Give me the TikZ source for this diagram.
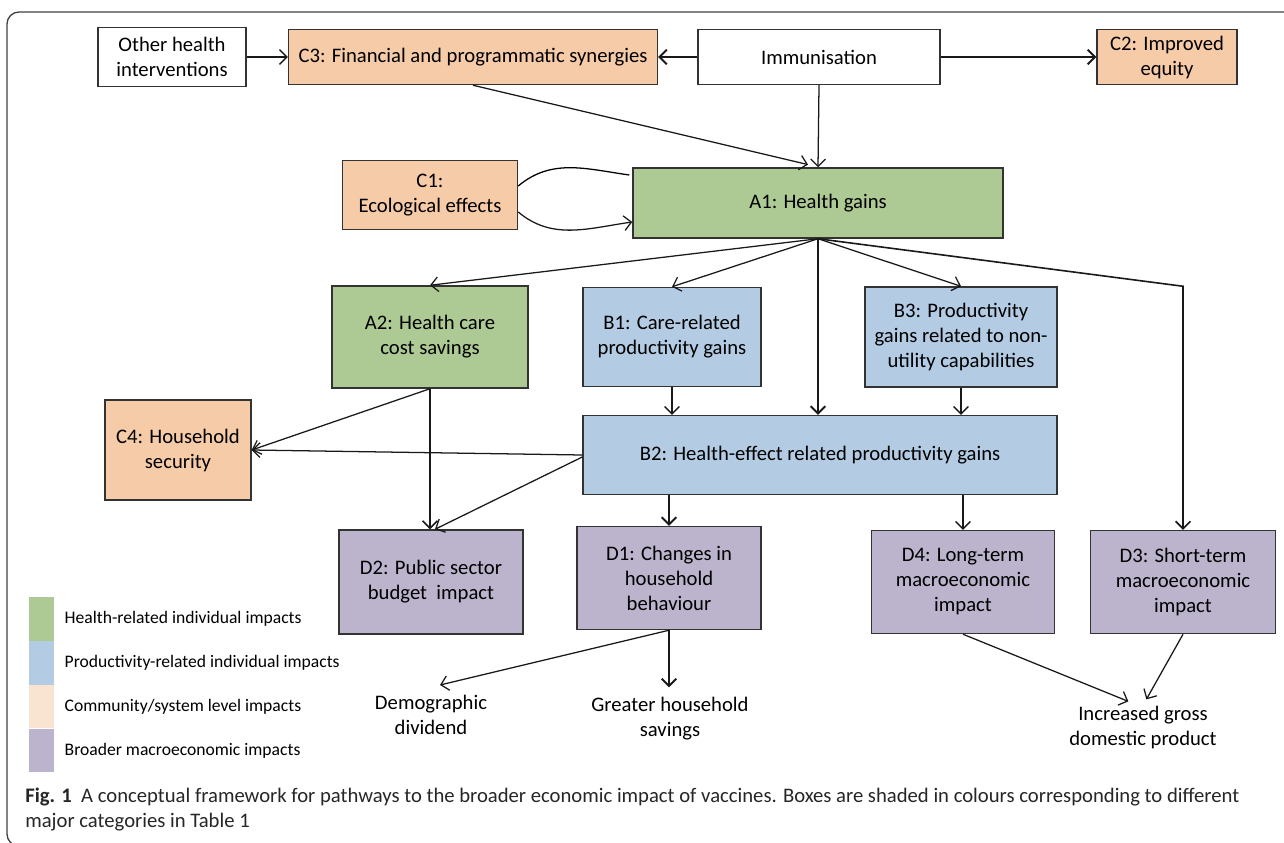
\documentclass[tikz,border=0pt]{standalone}
\usepackage{fontspec}
\setmainfont{Carlito}
\usetikzlibrary{arrows.meta,positioning}
\definecolor{healthgreen}{RGB}{174,202,148}
\definecolor{prodblue}{RGB}{179,204,228}
\definecolor{commpeach}{RGB}{246,203,167}
\definecolor{commlight}{RGB}{249,228,210}
\definecolor{macropurple}{RGB}{187,180,204}
\begin{document}
\begin{tikzpicture}[x=0.75pt,y=-0.75pt,
	box/.style={rectangle, draw=black!80, line width=1.1pt, align=center, inner sep=0pt, font=\fontsize{15.5}{18.75}\selectfont},
	plain/.style={align=center, inner sep=0pt, font=\fontsize{15.5}{18.75}\selectfont},
	link/.style={-{Straight Barb[length=5.5pt,width=11pt]}, line width=0.95pt, black!90},
	legbar/.style={rectangle, inner sep=0pt, minimum width=19pt, minimum height=32.5pt},
	legtext/.style={anchor=west, inner sep=0pt, font=\fontsize{13.2}{15}\selectfont}]
	\useasboundingbox (0,0) rectangle (1284,842);
	\draw[rounded corners=9pt, black!75, line width=1pt] (7,12) rectangle (1300,846);
	\node[box, minimum width=111pt, minimum height=44.25pt] (other) at (172,57) {Other health\\interventions};
	\node[box, fill=commpeach, minimum width=276.75pt, minimum height=41.25pt] (c3) at (473,57) {C3: Financial and programmatic synergies};
	\node[box, minimum width=181.5pt, minimum height=41.25pt] (imm) at (819,57) {Immunisation};
	\node[box, fill=commpeach, minimum width=105pt, minimum height=41.25pt] (c2) at (1167,57) {C2: Improved\\equity};
	\node[box, fill=commpeach, minimum width=131.25pt, minimum height=51.75pt] (c1) at (430,195) {C1:\\Ecological effects};
	\node[box, fill=healthgreen, minimum width=277.5pt, minimum height=52.5pt] (a1) at (818,203) {A1: Health gains};
	\node[box, fill=healthgreen, minimum width=147pt, minimum height=76.5pt] (a2) at (430,337) {A2: Health care\\cost savings};
	\node[box, fill=prodblue, minimum width=133.5pt, minimum height=74.25pt] (b1) at (672,337) {B1: Care-related\\productivity gains};
	\node[box, fill=prodblue, minimum width=144pt, minimum height=75pt] (b3) at (961,337) {B3: Productivity\\gains related to non-\\utility capabilities};
	\node[box, fill=commpeach, minimum width=109.5pt, minimum height=75pt] (c4) at (178,450) {C4: Household\\security};
	\node[box, fill=prodblue, minimum width=355.5pt, minimum height=59.25pt] (b2) at (820,455) {B2: Health-effect related productivity gains};
	\node[box, fill=macropurple, minimum width=138pt, minimum height=78pt] (d2) at (431,582) {D2: Public sector\\budget\ \ impact};
	\node[box, fill=macropurple, minimum width=138pt, minimum height=77.25pt] (d1) at (669,578) {D1: Changes in\\household\\behaviour};
	\node[box, fill=macropurple, minimum width=137.25pt, minimum height=77.25pt] (d4) at (963,582) {D4: Long-term\\macroeconomic\\impact};
	\node[box, fill=macropurple, minimum width=138.75pt, minimum height=77.25pt] (d3) at (1183,582) {D3: Short-term\\macroeconomic\\impact};
	\node[plain] (demo) at (431,715) {Demographic\\dividend};
	\node[plain] (savings) at (670,719) {Greater household\\savings};
	\node[plain] (gdp) at (1143,727) {Increased gross\\domestic product};
	\draw[link] (other) -- (c3);
	\draw[link, line width=1.4pt] (imm) -- (c3);
	\draw[link, line width=1.4pt] (imm) -- (c2);
	\draw[link] (imm.south) -- (a1.north);
	\draw[link] (c3.south) -- ([xshift=-7.5pt,yshift=2pt]a1.north);
	\draw[line width=0.95pt] ([yshift=6.75pt]c1.east) to[out=40,in=172] ([xshift=-2.25pt,yshift=21pt]a1.west);
	\draw[link] ([yshift=-12.75pt]c1.east) to[out=-40,in=188] ([yshift=-14.25pt]a1.west);
	\draw[link] (a1.south) -- (a2.north);
	\draw[link] (a1.south) -- (b1.north);
	\draw[link, line width=1.4pt] (a1.south) -- (a1.south |- b2.north);
	\draw[link] (a1.south) -- (b3.north);
	\draw[link, line width=1.2pt] (a1.south) -- (d3.north |- b3.north) -- (d3.north);
	\draw[link] (b1.south) -- (b1.south |- b2.north);
	\draw[link] (b3.south) -- (b3.south |- b2.north);
	\draw[link, line width=1.2pt] (a2.south) -- (a2.south |- d2.north);
	\draw[link] (a2.south) -- (c4.east);
	\draw[link] (b2.west) -- (c4.east);
	\draw[link] ([yshift=-1.5pt]b2.west) -- ([xshift=3pt]d2.north);
	\draw[link, line width=1.4pt] (d1.north |- b2.south) -- (d1.north);
	\draw[link] (d4.north |- b2.south) -- (d4.north);
	\draw[link] (d1.south) -- ([xshift=6.75pt,yshift=7.5pt]demo.north);
	\draw[link, line width=1.4pt] (d1.south) -- ([yshift=7.5pt]d1.south |- savings.north);
	\draw[link] (d4.south) -- ([xshift=-11pt,yshift=3pt]gdp.north);
	\draw[link] (d3.south) -- ([xshift=2.5pt,yshift=4.5pt]gdp.north);
	\node[legbar, fill=healthgreen] (lgreen) at (41.5,619) {};
	\node[legbar, fill=prodblue, below=0pt of lgreen] (lblue) {};
	\node[legbar, fill=commlight, below=0pt of lblue] (lpeach) {};
	\node[legbar, fill=macropurple, below=0pt of lpeach] (lpurple) {};
	\node[legtext, right=7.5pt of lgreen] {Health-related individual impacts};
	\node[legtext, right=7.5pt of lblue] {Productivity-related individual impacts};
	\node[legtext, right=7.5pt of lpeach] {Community/system level impacts};
	\node[legtext, right=7.5pt of lpurple] {Broader macroeconomic impacts};
	\node[anchor=west, inner sep=0pt, font=\fontsize{15.5}{18}\selectfont, text=black!85] (cap1) at (25,797) {\textbf{Fig. 1}\ \ A conceptual framework for pathways to the broader economic impact of vaccines. Boxes are shaded in colours corresponding to different};
	\node[anchor=west, inner sep=0pt, font=\fontsize{15.5}{18}\selectfont, text=black!85] (cap2) at (25,822) {major categories in Table 1};
\end{tikzpicture}
\end{document}
